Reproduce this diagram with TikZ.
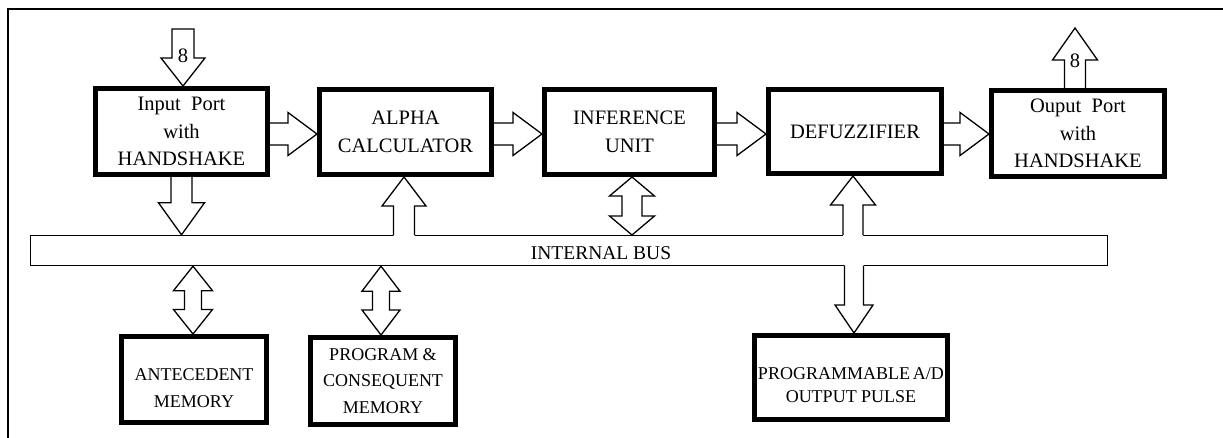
\documentclass[tikz,border=0pt]{standalone}
\usepackage{fontspec}
\setmainfont{Liberation Serif}
\usetikzlibrary{calc,backgrounds}
\tikzset{
  blk/.style={draw, line width=5pt, fill=white, align=center, inner sep=0pt,
    font=\fontsize{20.5}{27.5}\selectfont},
  memfont/.style={font=\fontsize{18}{26.5}\selectfont},
  arrline/.style={draw, line width=1.3pt, line join=miter},
  arr/.style={arrline, fill=white},
  busbox/.style={draw, line width=1.4pt, fill=white, inner sep=0pt},
  lbl/.style={inner sep=0pt, font=\fontsize{20.5}{24}\selectfont},
}
% block arrows: #1 tip, #2 head length, #3 shaft length, #4 half head width, #5 half shaft width
\newcommand\blkup[5]{%
  \path[arr] (#1) -- ++(#4,#2) -- ++(-#4+#5,0) -- ++(0,#3) -- ++(-2*#5,0) -- ++(0,-#3) -- ++(-#4+#5,0) -- cycle;}
\newcommand\blkdown[5]{%
  \path[arr] (#1) -- ++(#4,-#2) -- ++(-#4+#5,0) -- ++(0,-#3) -- ++(-2*#5,0) -- ++(0,#3) -- ++(-#4+#5,0) -- cycle;}
\newcommand\blkright[5]{%
  \path[arr] (#1) -- ++(-#2,-#4) -- ++(0,#4-#5) -- ++(-#3,0) -- ++(0,2*#5) -- ++(#3,0) -- ++(0,#4-#5) -- cycle;}
% merged with bus (open tail)
\newcommand\blkupm[5]{%
  \fill[white] (#1) -- ++(#4,#2) -- ++(-#4+#5,0) -- ++(0,#3+2) -- ++(-2*#5,0) -- ++(0,-#3-2) -- ++(-#4+#5,0) -- cycle;
  \draw[arrline] ($(#1)+(-#5,#2+#3)$) -- ++(0,-#3) -- ++(-#4+#5,0) -- (#1) -- ++(#4,#2) -- ++(-#4+#5,0) -- ++(0,#3);}
\newcommand\blkdownm[5]{%
  \fill[white] (#1) -- ++(#4,-#2) -- ++(-#4+#5,0) -- ++(0,-#3-2) -- ++(-2*#5,0) -- ++(0,#3+2) -- ++(-#4+#5,0) -- cycle;
  \draw[arrline] ($(#1)+(-#5,-#2-#3)$) -- ++(0,#3) -- ++(-#4+#5,0) -- (#1) -- ++(#4,-#2) -- ++(-#4+#5,0) -- ++(0,-#3);}
% double vertical: #1 top tip, #2 head length, #3 shaft length, #4 half head, #5 half shaft
\newcommand\blkdbl[5]{%
  \path[arr] (#1) -- ++(#4,#2) -- ++(-#4+#5,0) -- ++(0,#3) -- ++(#4-#5,0) -- ++(-#4,#2)
    -- ++(-#4,-#2) -- ++(#4-#5,0) -- ++(0,-#3) -- ++(-#4+#5,0) -- cycle;}
\newcommand\stk[1]{\begin{tabular}{@{}c@{}}#1\end{tabular}}
% lower the text by 9pt while keeping the box centred
\newcommand\lowertext[1]{\raisebox{-9pt}[\dimexpr\height+9pt\relax][\dimexpr\depth+9pt\relax]{#1}}
\begin{document}
\begin{tikzpicture}[x=1pt,y=-1pt]
\useasboundingbox (0,0) rectangle (1223,438);
% frame (only top and left edges are visible)
\draw[line width=1.4pt] (8,438) -- (8,9) -- (1223,9);

% blocks
\node[blk, minimum width=172pt, minimum height=86pt] (inp) at (181.5,131.5) {Input\ \ Port\\with\\HANDSHAKE};
\node[blk, minimum width=172pt, minimum height=85pt] (alpha) at (405.5,132) {ALPHA\\CALCULATOR};
\node[blk, minimum width=170pt, minimum height=85pt] (inf) at (629.5,132) {INFERENCE\\UNIT};
\node[blk, minimum width=173pt, minimum height=84pt] (defz) at (855,131.5) {DEFUZZIFIER};
\node[blk, minimum width=173pt, minimum height=86pt] (outp) at (1078,133.5) {Ouput\ \ Port\\with\\HANDSHAKE};
\node[blk, font=\fontsize{18}{27}\selectfont, minimum width=145pt, minimum height=86pt] (ante) at (194,379.5) {\lowertext{\stk{ANTECEDENT\\MEMORY}}};
\node[blk, memfont, minimum width=145pt, minimum height=87pt] (prog) at (383,381) {PROGRAM \&\\CONSEQUENT\\MEMORY};
\node[blk, font=\fontsize{18}{23.5}\selectfont, minimum width=193pt, minimum height=84pt] (pad) at (851,377.5) {\lowertext{\stk{PROGRAMMABLE\,A/D\\OUTPUT PULSE}}};

\begin{pgfonlayer}{background}
  \fill[white] (0,0) rectangle (1223,438);
  % internal bus
  \node[busbox, minimum width=1077pt, minimum height=30pt] (bus) at (569,250.5) {};
  % horizontal data flow
  \blkright{alpha.west |- 0,134}{29}{24}{21.5}{11}
  \blkright{inf.west |- 0,134}{29}{24}{21.5}{11}
  \blkright{defz.west |- 0,134}{29}{24}{21.5}{11}
  \blkright{outp.west |- 0,134}{29}{24}{21.5}{11}
  % external 8-bit ports
  \blkdown{$(inp.north)+(1.5,0)$}{28}{29}{22}{11}
  \blkup{$(outp.north)+(-3,-60)$}{32}{34}{22.5}{10.5}
  % input port to bus
  \blkdown{inp.south |- bus.north}{32}{30}{23}{10.5}
  % bus to alpha, defuzzifier
  \blkupm{$(alpha.south)+(-1.5,0)$}{29}{29}{22}{10.5}
  \blkupm{$(defz.south)+(-2,0)$}{29}{30}{22.5}{10}
  % inference <-> bus
  \blkdbl{$(inf.south)+(2.5,0)$}{19}{20}{22.5}{10}
  % bus <-> memories
  \blkdbl{$(ante.north |- bus.south)+(-1,0)$}{24.5}{18.8}{19.5}{8.5}
  \blkdbl{$(prog.north |- bus.south)+(-2,0)$}{25}{18.8}{19}{8.5}
  % bus to programmable A/D
  \blkdownm{$(pad.north)+(3,0)$}{28}{39}{19}{9.5}
\end{pgfonlayer}

\node[lbl] (in8) at (183,56) {8};
\node[lbl] (out8) at (1075,61) {8};
\node[lbl, font=\fontsize{19.5}{24}\selectfont] (buslbl) at (601,253) {INTERNAL BUS};
\end{tikzpicture}
\end{document}
